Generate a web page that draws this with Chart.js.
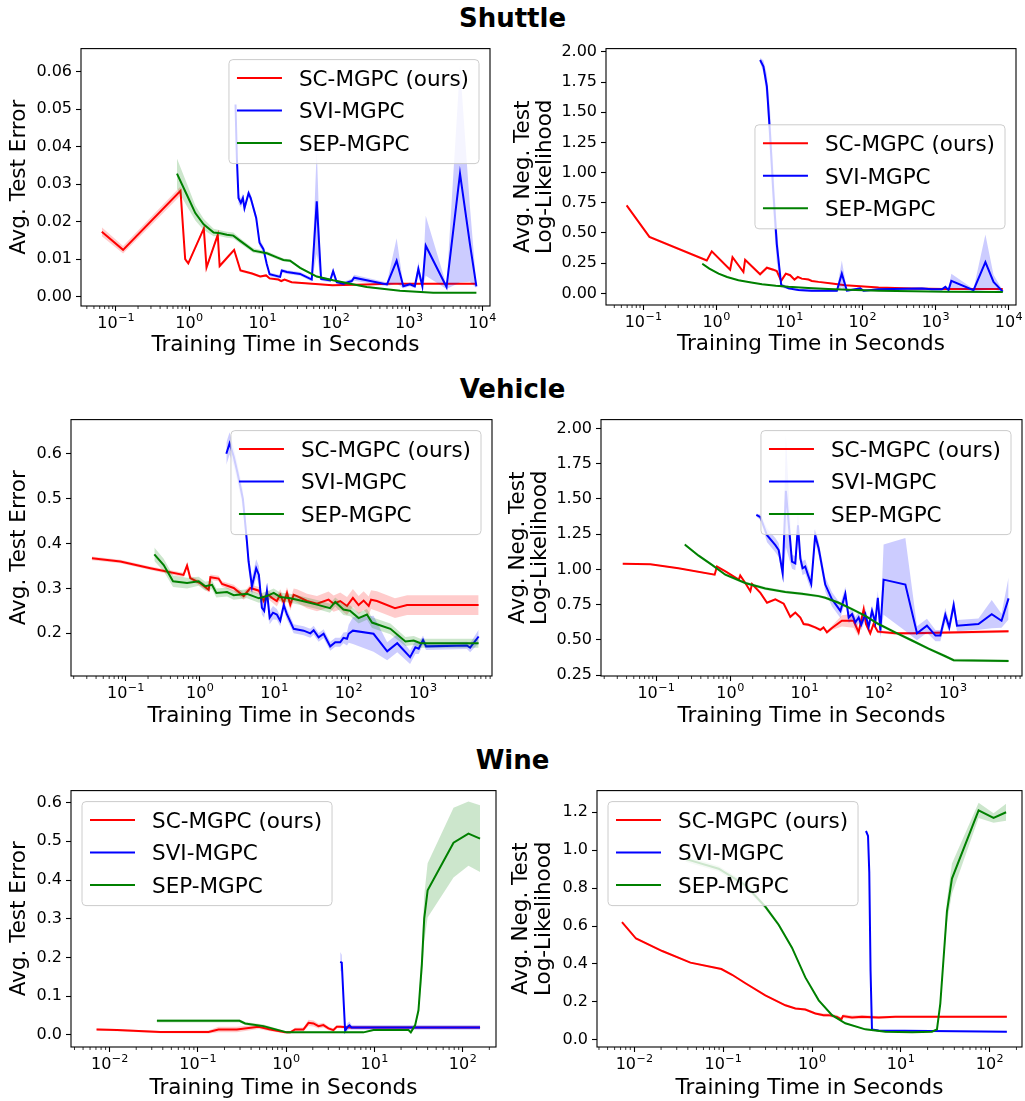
<!DOCTYPE html>
<html>
<head>
<meta charset="utf-8">
<script src="https://cdn.jsdelivr.net/npm/chart.js@4.4.1/dist/chart.umd.min.js"></script>
<style>
  html, body { margin: 0; padding: 0; background: #fff; overflow: hidden; }
  #page { position: relative; width: 1025px; height: 1101px; }
  .panel { position: absolute; }
  .rowTitle { position: absolute; left: 0; width: 1025px; text-align: center;
    font: bold 26px "DejaVu Sans", sans-serif; line-height: 26px; }
</style>
</head>
<body>
<div id="page">
  <div class="rowTitle" style="top:5px">Shuttle</div>
  <div class="rowTitle" style="top:376px">Vehicle</div>
  <div class="rowTitle" style="top:747px">Wine</div>
  <canvas class="panel" id="c1"></canvas>
  <canvas class="panel" id="c2"></canvas>
  <canvas class="panel" id="c3"></canvas>
  <canvas class="panel" id="c4"></canvas>
  <canvas class="panel" id="c5"></canvas>
  <canvas class="panel" id="c6"></canvas>
</div>
<script>
Chart.defaults.font.family = '"DejaVu Sans", sans-serif';
Chart.defaults.color = '#000';

// legend names and colours
const methods = ['SC-MGPC (ours)', 'SVI-MGPC', 'SEP-MGPC'];
const lineColors = ['#ff0000', '#0000ff', '#008000'];
const bandColors = ['rgba(255,0,0,0.2)', 'rgba(0,0,255,0.2)', 'rgba(0,128,0,0.2)'];

// ---- Shuttle: test error ----
const shuttleErrScT = [0.064, 0.125, 0.76, 0.88, 0.97, 1.58, 1.72, 2.45, 2.6, 4.1, 5.0, 7.2, 9.3, 11.2, 12.5, 16.5, 18, 20, 25, 90, 260, 550, 8300];
const shuttleErrScV = [0.0173, 0.0125, 0.0282, 0.0100, 0.0089, 0.0182, 0.0078, 0.0165, 0.0082, 0.0125, 0.0070, 0.0062, 0.0054, 0.0057, 0.0049, 0.0046, 0.0042, 0.0046, 0.0039, 0.0031, 0.0033, 0.0035, 0.0035];
const shuttleErrScS = [0.0012, 0.0010, 0.0012, 0.0006, 0.0005, 0.0005, 0.0005, 0.0005, 0.0005, 0.0005, 0.0004, 0.0003, 0.0003, 0.0003, 0.0003, 0.0003, 0.0003, 0.0003, 0.0002, 0.0002, 0.0002, 0.0002, 0.0002];
const shuttleErrSviT = [4.28, 4.47, 4.7, 5.06, 5.4, 5.67, 6.45, 6.9, 8.2, 9.1, 10.3, 11.4, 12.5, 17.4, 18.3, 21.5, 32.6, 47, 55, 63, 84, 92, 103, 127, 165, 178, 500, 677, 835, 1030, 1200, 1340, 1520, 1690, 3250, 4960, 6780, 8300];
const shuttleErrSviV = [0.0512, 0.0368, 0.0263, 0.0250, 0.0263, 0.0236, 0.0276, 0.0263, 0.0210, 0.0144, 0.0127, 0.0088, 0.0060, 0.0053, 0.0070, 0.0066, 0.0061, 0.0046, 0.0254, 0.0048, 0.0044, 0.0068, 0.0039, 0.0035, 0.0042, 0.0051, 0.0033, 0.0096, 0.0028, 0.0033, 0.0028, 0.0074, 0.0028, 0.0136, 0.0026, 0.0328, 0.0140, 0.0028];
const shuttleErrSviS = [0.002, 0.002, 0.0015, 0.0012, 0.0012, 0.001, 0.001, 0.001, 0.001, 0.001, 0.0008, 0.0006, 0.0005, 0.0005, 0.0005, 0.0005, 0.0005, 0.0005, 0.014, 0.0005, 0.0005, 0.001, 0.0005, 0.0005, 0.0006, 0.0008, 0.0005, 0.006, 0.0005, 0.0005, 0.0005, 0.002, 0.0005, 0.008, 0.0005, 0.029, 0.01, 0.0005];
const shuttleErrSepT = [0.68, 0.93, 1.21, 1.57, 2.15, 2.65, 3.26, 4.0, 4.96, 7.5, 11.5, 15.7, 19.3, 23.8, 32.6, 55, 92, 157, 265, 753, 2140, 8300];
const shuttleErrSepV = [0.0328, 0.0271, 0.0223, 0.0193, 0.0171, 0.0169, 0.0165, 0.0163, 0.0149, 0.0123, 0.0116, 0.0105, 0.0098, 0.0096, 0.0077, 0.0054, 0.0044, 0.0035, 0.0026, 0.0016, 0.0011, 0.0011];
const shuttleErrSepS = [0.004, 0.003, 0.002, 0.0015, 0.001, 0.0008, 0.0008, 0.0008, 0.0007, 0.0006, 0.0005, 0.0005, 0.0004, 0.0004, 0.0003, 0.0003, 0.0002, 0.0002, 0.0002, 0.0001, 0.0001, 0.0001];

// ---- Shuttle: negative test log-likelihood ----
const shuttleNllScT = [0.059, 0.121, 0.738, 0.863, 1.54, 1.66, 2.34, 2.47, 3.96, 4.9, 6.0, 6.7, 7.69, 8.9, 10.2, 11.7, 13, 14.7, 18.2, 20.2, 25, 38, 58, 166, 474, 1360, 8300];
const shuttleNllScV = [0.729, 0.468, 0.272, 0.348, 0.196, 0.299, 0.177, 0.278, 0.158, 0.212, 0.196, 0.185, 0.103, 0.163, 0.150, 0.114, 0.136, 0.122, 0.114, 0.103, 0.095, 0.082, 0.068, 0.049, 0.041, 0.035, 0.035];
const shuttleNllScS = [0.01, 0.01, 0.01, 0.01, 0.01, 0.01, 0.01, 0.01, 0.01, 0.01, 0.01, 0.01, 0.01, 0.01, 0.01, 0.008, 0.008, 0.008, 0.008, 0.006, 0.006, 0.005, 0.005, 0.004, 0.004, 0.004, 0.004];
const shuttleNllSviT = [3.96, 4.4, 4.9, 5.4, 6.0, 6.7, 7.7, 9.7, 13.3, 20, 44.5, 52, 61, 93, 103, 166, 650, 890, 1220, 1360, 1500, 1640, 3300, 4800, 6200, 8300];
const shuttleNllSviV = [1.932, 1.878, 1.714, 1.333, 0.844, 0.408, 0.068, 0.041, 0.027, 0.022, 0.022, 0.163, 0.022, 0.041, 0.022, 0.033, 0.041, 0.033, 0.033, 0.054, 0.027, 0.103, 0.027, 0.258, 0.095, 0.014];
const shuttleNllSviS = [0.02, 0.05, 0.1, 0.2, 0.2, 0.15, 0.02, 0.01, 0.01, 0.01, 0.01, 0.11, 0.01, 0.01, 0.01, 0.01, 0.01, 0.01, 0.01, 0.01, 0.01, 0.06, 0.01, 0.23, 0.06, 0.01];
const shuttleNllSepT = [0.64, 0.8, 1.07, 1.4, 2.0, 3.0, 4.2, 6.5, 9.7, 18, 34, 80, 166, 500, 1360, 8300];
const shuttleNllSepV = [0.245, 0.205, 0.163, 0.135, 0.109, 0.09, 0.076, 0.063, 0.054, 0.044, 0.035, 0.027, 0.022, 0.017, 0.014, 0.011];
const shuttleNllSepS = [0.01, 0.008, 0.006, 0.005, 0.005, 0.004, 0.004, 0.004, 0.003, 0.003, 0.003, 0.003, 0.003, 0.003, 0.003, 0.003];

// ---- Vehicle: test error ----
const vehicleErrScT = [0.0352, 0.085, 0.215, 0.60, 0.67, 0.74, 1.0, 1.31, 1.38, 1.78, 1.98, 2.84, 3.87, 4.76, 6.2, 7.2, 7.95, 9.3, 10.8, 12, 13.4, 14.8, 16.4, 18.2, 20.2, 27.5, 37.5, 53.6, 62.7, 77, 95, 114, 136, 159, 186, 200, 240, 420, 610, 5600];
const vehicleErrScV = [0.367, 0.360, 0.345, 0.330, 0.351, 0.323, 0.312, 0.297, 0.325, 0.322, 0.310, 0.301, 0.283, 0.301, 0.295, 0.272, 0.288, 0.279, 0.272, 0.286, 0.268, 0.290, 0.264, 0.286, 0.283, 0.272, 0.266, 0.275, 0.266, 0.272, 0.261, 0.279, 0.263, 0.273, 0.261, 0.275, 0.272, 0.256, 0.263, 0.263];
const vehicleErrScS = [0.004, 0.004, 0.004, 0.005, 0.005, 0.005, 0.006, 0.006, 0.006, 0.006, 0.006, 0.007, 0.008, 0.008, 0.008, 0.01, 0.01, 0.01, 0.012, 0.012, 0.012, 0.013, 0.013, 0.014, 0.015, 0.016, 0.017, 0.018, 0.018, 0.019, 0.02, 0.02, 0.02, 0.021, 0.021, 0.021, 0.022, 0.022, 0.022, 0.022];
const vehicleErrSviT = [2.26, 2.5, 2.84, 3.2, 3.78, 4.28, 4.5, 5.0, 5.7, 6.2, 6.8, 7.3, 7.95, 8.65, 9.6, 10.8, 12, 13.4, 14.8, 18.2, 24.8, 30.5, 33.8, 39.4, 46, 56.5, 66, 77, 85, 95, 100, 114, 216, 330, 450, 670, 790, 875, 1000, 1100, 3900, 4300, 5600];
const vehicleErrSviV = [0.600, 0.623, 0.594, 0.557, 0.499, 0.404, 0.360, 0.305, 0.345, 0.330, 0.257, 0.250, 0.294, 0.235, 0.246, 0.242, 0.228, 0.263, 0.242, 0.210, 0.206, 0.200, 0.207, 0.191, 0.199, 0.171, 0.180, 0.180, 0.190, 0.188, 0.199, 0.206, 0.199, 0.160, 0.178, 0.147, 0.169, 0.166, 0.185, 0.171, 0.173, 0.168, 0.193];
const vehicleErrSviS = [0.025, 0.025, 0.02, 0.02, 0.02, 0.02, 0.02, 0.02, 0.02, 0.02, 0.015, 0.015, 0.015, 0.015, 0.015, 0.012, 0.012, 0.012, 0.012, 0.01, 0.01, 0.01, 0.01, 0.01, 0.01, 0.01, 0.01, 0.01, 0.012, 0.015, 0.02, 0.03, 0.04, 0.02, 0.02, 0.015, 0.015, 0.012, 0.01, 0.008, 0.008, 0.01, 0.015];
const vehicleErrSepT = [0.243, 0.325, 0.434, 0.67, 0.96, 1.18, 1.45, 1.66, 2.31, 2.84, 4.28, 6.2, 7.95, 9.8, 12, 16.4, 22.4, 37.5, 56, 66, 85, 105, 136, 176, 206, 364, 580, 750, 925, 5600];
const vehicleErrSepV = [0.376, 0.352, 0.316, 0.312, 0.316, 0.305, 0.308, 0.290, 0.292, 0.285, 0.288, 0.278, 0.283, 0.290, 0.281, 0.278, 0.273, 0.264, 0.256, 0.270, 0.253, 0.250, 0.234, 0.242, 0.224, 0.210, 0.182, 0.184, 0.178, 0.178];
const vehicleErrSepS = [0.015, 0.014, 0.013, 0.012, 0.01, 0.01, 0.01, 0.01, 0.01, 0.01, 0.01, 0.01, 0.01, 0.01, 0.01, 0.01, 0.01, 0.01, 0.01, 0.01, 0.012, 0.012, 0.012, 0.012, 0.012, 0.012, 0.01, 0.01, 0.01, 0.01];

// ---- Vehicle: negative test log-likelihood ----
const vehicleNllScT = [0.0355, 0.0836, 0.2, 0.615, 0.66, 0.86, 1.3, 1.36, 1.59, 1.86, 1.96, 2.54, 3.12, 4.04, 5.24, 6.43, 7.5, 8.77, 9.7, 11.3, 13.9, 16.3, 18, 20, 23.4, 31.8, 45.8, 53.5, 62.6, 67.2, 76.7, 85, 97, 166, 280, 5600];
const vehicleNllScV = [1.039, 1.036, 1.008, 0.962, 1.020, 0.985, 0.927, 0.957, 0.903, 0.845, 0.896, 0.833, 0.763, 0.787, 0.756, 0.663, 0.693, 0.658, 0.612, 0.607, 0.588, 0.570, 0.588, 0.553, 0.584, 0.635, 0.635, 0.553, 0.717, 0.612, 0.546, 0.612, 0.558, 0.546, 0.546, 0.560];
const vehicleNllScS = [0.005, 0.005, 0.005, 0.006, 0.006, 0.006, 0.006, 0.006, 0.006, 0.008, 0.008, 0.008, 0.008, 0.008, 0.008, 0.01, 0.01, 0.01, 0.01, 0.01, 0.01, 0.012, 0.012, 0.012, 0.015, 0.04, 0.05, 0.03, 0.03, 0.02, 0.02, 0.015, 0.012, 0.01, 0.01, 0.01];
const vehicleNllSviT = [2.24, 2.54, 3.12, 4.04, 4.48, 5.07, 5.6, 6.77, 7.5, 8.15, 8.77, 9.4, 10.2, 11.1, 12.3, 13.9, 15.5, 19, 23.4, 30.4, 35.4, 39.3, 43.6, 48.3, 53.5, 58, 65.8, 73, 81, 89.7, 97, 105, 116, 228, 327, 445, 580, 675, 787, 890, 1020, 1130, 2200, 3320, 4500, 5600];
const vehicleNllSviV = [1.386, 1.370, 1.242, 1.172, 1.137, 0.973, 1.557, 1.055, 1.043, 1.312, 1.078, 1.008, 1.020, 0.962, 0.896, 1.242, 1.148, 0.892, 0.787, 0.705, 0.826, 0.658, 0.682, 0.623, 0.658, 0.607, 0.682, 0.593, 0.705, 0.623, 0.798, 0.565, 0.927, 0.892, 0.546, 0.600, 0.530, 0.530, 0.677, 0.588, 0.747, 0.600, 0.612, 0.682, 0.635, 0.794];
const vehicleNllSviS = [0.01, 0.02, 0.05, 0.05, 0.05, 0.05, 0.4, 0.05, 0.05, 0.1, 0.05, 0.05, 0.05, 0.05, 0.05, 0.05, 0.05, 0.05, 0.05, 0.05, 0.05, 0.04, 0.04, 0.04, 0.04, 0.04, 0.04, 0.04, 0.04, 0.04, 0.05, 0.05, 0.25, 0.33, 0.05, 0.05, 0.04, 0.04, 0.05, 0.04, 0.05, 0.04, 0.04, 0.1, 0.05, 0.15];
const vehicleNllSepT = [0.243, 0.374, 0.566, 0.856, 1.59, 2.96, 5.5, 9.2, 15.5, 19, 28.8, 43.6, 65.8, 99, 166, 280, 467, 787, 1020, 5600];
const vehicleNllSepV = [1.176, 1.097, 1.032, 0.962, 0.903, 0.864, 0.840, 0.826, 0.810, 0.798, 0.763, 0.717, 0.670, 0.612, 0.553, 0.495, 0.437, 0.383, 0.355, 0.350];
const vehicleNllSepS = [0.01, 0.01, 0.01, 0.01, 0.01, 0.01, 0.01, 0.01, 0.01, 0.01, 0.01, 0.01, 0.01, 0.01, 0.01, 0.01, 0.01, 0.01, 0.01, 0.01];

// ---- Wine: test error ----
const wineErrScT = [0.0071, 0.0121, 0.0375, 0.132, 0.171, 0.276, 0.486, 0.659, 0.974, 1.11, 1.26, 1.57, 1.79, 2.04, 2.32, 2.64, 3.01, 3.43, 3.74, 4.09, 5.3, 157];
const wineErrScV = [0.0144, 0.0127, 0.0076, 0.0076, 0.0144, 0.0144, 0.0212, 0.0144, 0.0068, 0.0068, 0.0144, 0.0144, 0.0314, 0.0297, 0.0229, 0.0255, 0.0170, 0.0127, 0.0212, 0.0212, 0.0195, 0.0195];
const wineErrScS = [0.003, 0.003, 0.003, 0.004, 0.007, 0.007, 0.006, 0.005, 0.003, 0.003, 0.004, 0.005, 0.008, 0.008, 0.006, 0.006, 0.005, 0.004, 0.004, 0.004, 0.004, 0.004];
const wineErrSviT = [4.09, 4.26, 4.45, 4.65, 4.95, 5.2, 5.5, 157];
const wineErrSviV = [0.189, 0.187, 0.0976, 0.011, 0.021, 0.025, 0.0195, 0.0195];
const wineErrSviS = [0.025, 0.02, 0.01, 0.005, 0.01, 0.01, 0.006, 0.006];
const wineErrSepT = [0.0343, 0.296, 0.343, 0.554, 1.02, 7.5, 9.75, 24.3, 25.8, 28.9, 31.5, 34.4, 36.6, 40, 78.6, 116, 157];
const wineErrSepV = [0.0365, 0.0365, 0.0297, 0.0229, 0.0068, 0.0068, 0.0127, 0.0127, 0.0068, 0.0255, 0.0637, 0.1825, 0.301, 0.3735, 0.4966, 0.520, 0.507];
const wineErrSepS = [0.004, 0.004, 0.004, 0.004, 0.002, 0.002, 0.002, 0.002, 0.002, 0.005, 0.01, 0.04, 0.06, 0.07, 0.09, 0.083, 0.086];

// ---- Wine: negative test log-likelihood ----
const wineNllScT = [0.00726, 0.01044, 0.0206, 0.0428, 0.0954, 0.126, 0.178, 0.298, 0.501, 0.65, 0.84, 1.09, 1.35, 1.54, 1.91, 2.14, 2.23, 2.82, 3.65, 5.63, 8.66, 156];
const wineNllScV = [0.621, 0.534, 0.468, 0.407, 0.373, 0.343, 0.298, 0.234, 0.182, 0.165, 0.160, 0.139, 0.130, 0.130, 0.121, 0.108, 0.125, 0.118, 0.121, 0.118, 0.121, 0.121];
const wineNllScS = [0.005, 0.005, 0.005, 0.005, 0.005, 0.005, 0.005, 0.005, 0.005, 0.005, 0.006, 0.006, 0.008, 0.008, 0.01, 0.01, 0.01, 0.01, 0.01, 0.008, 0.006, 0.006];
const wineNllSviT = [4.05, 4.27, 4.41, 4.56, 4.73, 5.63, 156];
const wineNllSviV = [1.101, 1.075, 0.884, 0.364, 0.055, 0.049, 0.043];
const wineNllSviS = [0.005, 0.01, 0.02, 0.02, 0.005, 0.003, 0.003];
const wineNllSepT = [0.0375, 0.089, 0.178, 0.298, 0.421, 0.595, 0.841, 1.19, 1.68, 2.37, 3.98, 6.7, 13.4, 22.4, 25.5, 27.8, 30.3, 33, 37.6, 75, 110.5, 153];
const wineNllSepV = [0.954, 0.902, 0.815, 0.702, 0.607, 0.486, 0.329, 0.208, 0.130, 0.087, 0.055, 0.043, 0.040, 0.043, 0.055, 0.191, 0.434, 0.676, 0.850, 1.210, 1.170, 1.200];
const wineNllSepS = [0.015, 0.015, 0.015, 0.012, 0.01, 0.008, 0.006, 0.005, 0.005, 0.004, 0.003, 0.003, 0.003, 0.003, 0.004, 0.01, 0.03, 0.06, 0.08, 0.04, 0.025, 0.045];

// x tick values and their exponents (labels read 10^exp)
const shuttleXTicks = [0.1, 1, 10, 100, 1000, 10000];
const shuttleXExps = ['\u22121', '0', '1', '2', '3', '4'];
const vehicleXTicks = [0.1, 1, 10, 100, 1000];
const vehicleXExps = ['\u22121', '0', '1', '2', '3'];
const wineXTicks = [0.01, 0.1, 1, 10, 100];
const wineXExps = ['\u22122', '\u22121', '0', '1', '2'];

const shuttleErrYTicks = [0, 0.01, 0.02, 0.03, 0.04, 0.05, 0.06];
const shuttleNllYTicks = [0, 0.25, 0.5, 0.75, 1, 1.25, 1.5, 1.75, 2];
const vehicleErrYTicks = [0.2, 0.3, 0.4, 0.5, 0.6];
const vehicleNllYTicks = [0.25, 0.5, 0.75, 1, 1.25, 1.5, 1.75, 2];
const wineErrYTicks = [0, 0.1, 0.2, 0.3, 0.4, 0.5, 0.6];
const wineNllYTicks = [0, 0.2, 0.4, 0.6, 0.8, 1.0, 1.2];

const errTitle = 'Avg. Test Error';
const nllTitle = ['Avg. Neg. Test', 'Log-Likelihood'];
const xTitle = 'Training Time in Seconds';

// frame, minor x ticks, 10^n labels and the boxed legend
function makeBoxPlugin(p) {
  return {
    id: 'boxPlugin',
    afterDatasetsDraw(chart) {
      const ctx = chart.ctx, a = chart.chartArea;
      ctx.save();
      ctx.strokeStyle = '#000';
      ctx.lineWidth = 1.1;
      ctx.strokeRect(a.left, a.top, a.right - a.left, a.bottom - a.top);

      const xs = chart.scales.x;
      ctx.lineWidth = 0.8;
      xs.ticks.forEach(t => {
        if (t.major) return;
        const px = xs.getPixelForValue(t.value);
        ctx.beginPath();
        ctx.moveTo(px, a.bottom);
        ctx.lineTo(px, a.bottom + 3);
        ctx.stroke();
      });

      // tick labels as 10 with a raised exponent
      ctx.fillStyle = '#000';
      ctx.textBaseline = 'alphabetic';
      ctx.textAlign = 'left';
      p.xTicks.forEach((v, i) => {
        const px = xs.getPixelForValue(v);
        ctx.font = '16px "DejaVu Sans", sans-serif';
        const wb = ctx.measureText('10').width;
        ctx.font = '11.2px "DejaVu Sans", sans-serif';
        const we = ctx.measureText(p.xExps[i]).width;
        const x0 = px - (wb + we + 0.5) / 2;
        ctx.font = '16px "DejaVu Sans", sans-serif';
        ctx.fillText('10', x0, a.bottom + 22.3);
        ctx.font = '11.2px "DejaVu Sans", sans-serif';
        ctx.fillText(p.xExps[i], x0 + wb + 0.5, a.bottom + 15);
      });

      ctx.font = '21.5px "DejaVu Sans", sans-serif';
      const tw = Math.max(...methods.map(m => ctx.measureText(m).width));
      const w = 80 + tw, h = 104;
      const bx = p.loc === 'ul' ? a.left + 11 : a.right - 11 - w;
      const by = p.loc === 'cr' ? (a.top + a.bottom) / 2 - h / 2 : a.top + 11;
      ctx.beginPath();
      if (ctx.roundRect) ctx.roundRect(bx, by, w, h, 4); else ctx.rect(bx, by, w, h);
      ctx.fillStyle = 'rgba(255,255,255,0.8)';
      ctx.fill();
      ctx.strokeStyle = '#cccccc';
      ctx.lineWidth = 1;
      ctx.stroke();
      methods.forEach((m, i) => {
        const y = by + 18.5 + i * 32.5;
        ctx.beginPath();
        ctx.moveTo(bx + 8, y);
        ctx.lineTo(bx + 53, y);
        ctx.strokeStyle = lineColors[i];
        ctx.lineWidth = 2;
        ctx.stroke();
        ctx.fillStyle = '#000';
        ctx.fillText(m, bx + 70, y + 7.8);
      });
      ctx.restore();
    }
  };
}

function logTicks(min, max) {
  const out = [];
  for (let e = Math.floor(Math.log10(min)); e <= Math.ceil(Math.log10(max)); e++) {
    for (let m = 1; m <= 9; m++) {
      const v = Number((m * Math.pow(10, e)).toPrecision(12));
      if (v >= min && v <= max) out.push({ value: v, major: m === 1 });
    }
  }
  return out;
}

function bandSets(t, v, s, k) {
  const order = 5 - 2 * k;
  return [
    { data: t.map((x, i) => ({ x: x, y: v[i] - s[i] })), borderWidth: 0, borderColor: 'transparent',
      pointRadius: 0, fill: false, order: order + 1 },
    { data: t.map((x, i) => ({ x: x, y: v[i] + s[i] })), borderWidth: 0, borderColor: 'transparent',
      pointRadius: 0, fill: '-1', backgroundColor: bandColors[k], order: order + 1 },
    { data: t.map((x, i) => ({ x: x, y: v[i] })), borderWidth: 2, borderColor: lineColors[k],
      pointRadius: 0, fill: false, order: order }
  ];
}

let panels = [
  { id: 'c1', cx: 0, cw: 505, area: [81, 45, 490, 306], loc: 'ur',
    series: [[shuttleErrScT, shuttleErrScV, shuttleErrScS], [shuttleErrSviT, shuttleErrSviV, shuttleErrSviS], [shuttleErrSepT, shuttleErrSepV, shuttleErrSepS]],
    xMin: 0.0333, xMax: 12735, yMin: -0.00245, yMax: 0.0661, xTicks: shuttleXTicks, xExps: shuttleXExps,
    yTicks: shuttleErrYTicks, dec: 2, yTitle: errTitle, yPad: 7.7, xPad: 9.7 },
  { id: 'c2', cx: 505, cw: 520, area: [606, 45, 1016, 305], loc: 'cr',
    series: [[shuttleNllScT, shuttleNllScV, shuttleNllScS], [shuttleNllSviT, shuttleNllSviV, shuttleNllSviS], [shuttleNllSepT, shuttleNllSepV, shuttleNllSepS]],
    xMin: 0.0308, xMax: 12590, yMin: -0.0965, yMax: 2.027, xTicks: shuttleXTicks, xExps: shuttleXExps,
    yTicks: shuttleNllYTicks, dec: 2, yTitle: nllTitle, yPad: 6.7, xPad: 9.7 },
  { id: 'c3', cx: 0, cw: 500, area: [71, 416, 492, 676], loc: 'ur',
    series: [[vehicleErrScT, vehicleErrScV, vehicleErrScS], [vehicleErrSviT, vehicleErrSviV, vehicleErrSviS], [vehicleErrSepT, vehicleErrSepV, vehicleErrSepS]],
    xMin: 0.0184, xMax: 8472, yMin: 0.105, yMax: 0.676, xTicks: vehicleXTicks, xExps: vehicleXExps,
    yTicks: vehicleErrYTicks, dec: 1, yTitle: errTitle, yPad: 7.7, xPad: 8 },
  { id: 'c4', cx: 500, cw: 525, area: [601, 416, 1022, 676], loc: 'ur',
    series: [[vehicleNllScT, vehicleNllScV, vehicleNllScS], [vehicleNllSviT, vehicleNllSviV, vehicleNllSviS], [vehicleNllSepT, vehicleNllSepV, vehicleNllSepS]],
    xMin: 0.0181, xMax: 8492, yMin: 0.243, yMax: 2.063, xTicks: vehicleXTicks, xExps: vehicleXExps,
    yTicks: vehicleNllYTicks, dec: 2, yTitle: nllTitle, yPad: 7, xPad: 8 },
  { id: 'c5', cx: 0, cw: 505, area: [71, 787, 496, 1047], loc: 'ul',
    series: [[wineErrScT, wineErrScV, wineErrScS], [wineErrSviT, wineErrSviV, wineErrSviS], [wineErrSepT, wineErrSepV, wineErrSepS]],
    xMin: 0.00365, xMax: 238, yMin: -0.031, yMax: 0.631, xTicks: wineXTicks, xExps: wineXExps,
    yTicks: wineErrYTicks, dec: 1, yTitle: errTitle, yPad: 7.7, xPad: 7.4 },
  { id: 'c6', cx: 505, cw: 520, area: [597, 787, 1022, 1047], loc: 'ul',
    series: [[wineNllScT, wineNllScV, wineNllScS], [wineNllSviT, wineNllSviV, wineNllSviS], [wineNllSepT, wineNllSepV, wineNllSepS]],
    xMin: 0.0038, xMax: 231, yMin: -0.038, yMax: 1.314, xTicks: wineXTicks, xExps: wineXExps,
    yTicks: wineNllYTicks, dec: 1, yTitle: nllTitle, yPad: 5.5, xPad: 7.4 }
];

panels.forEach(p => {
  const [al, at, ar, ab] = p.area;
  const canvas = document.getElementById(p.id);
  const top = at - 10, height = (ab - at) + 70;
  canvas.width = p.cw;
  canvas.height = height;
  canvas.style.left = p.cx + 'px';
  canvas.style.top = top + 'px';
  canvas.style.width = p.cw + 'px';
  canvas.style.height = height + 'px';

  let datasets = [];
  p.series.forEach((s, k) => { datasets = datasets.concat(bandSets(s[0], s[1], s[2], k)); });

  new Chart(canvas, {
    type: 'line',
    data: { datasets: datasets },
    plugins: [makeBoxPlugin(p)],
    options: {
      responsive: false,
      animation: false,
      events: [],
      layout: { padding: { top: 10, right: p.cx + p.cw - ar, left: 0, bottom: 0 } },
      plugins: { legend: { display: false }, tooltip: { enabled: false } },
      scales: {
        x: {
          type: 'logarithmic', min: p.xMin, max: p.xMax,
          afterBuildTicks: s => { s.ticks = logTicks(p.xMin, p.xMax); },
          afterFit: s => { s.height = 60; },
          ticks: { autoSkip: false, maxRotation: 0, minRotation: 0, padding: 1, font: { size: 16 },
            callback: () => '' },
          grid: { drawOnChartArea: false, drawTicks: true, tickLength: 5, tickWidth: 1.1,
            tickColor: c => (c.tick && c.tick.major) ? '#000' : 'rgba(0,0,0,0)' },
          border: { display: false },
          title: { display: true, text: xTitle, color: '#000', font: { size: 21.5, lineHeight: 1.05 },
            padding: { top: 0, bottom: p.xPad } }
        },
        y: {
          type: 'linear', min: p.yMin, max: p.yMax,
          afterBuildTicks: s => { s.ticks = p.yTicks.map(v => ({ value: v })); },
          afterFit: s => { s.width = al - p.cx; },
          ticks: { padding: 4, color: '#000', font: { size: 16 }, callback: v => v.toFixed(p.dec) },
          grid: { drawOnChartArea: false, drawTicks: true, tickLength: 5, tickWidth: 1.1, tickColor: '#000' },
          border: { display: false },
          title: { display: true, text: p.yTitle, color: '#000', font: { size: 21.5, lineHeight: 1.05 },
            padding: { top: p.yPad, bottom: 0 } }
        }
      }
    }
  });
});
</script>
</body>
</html>
